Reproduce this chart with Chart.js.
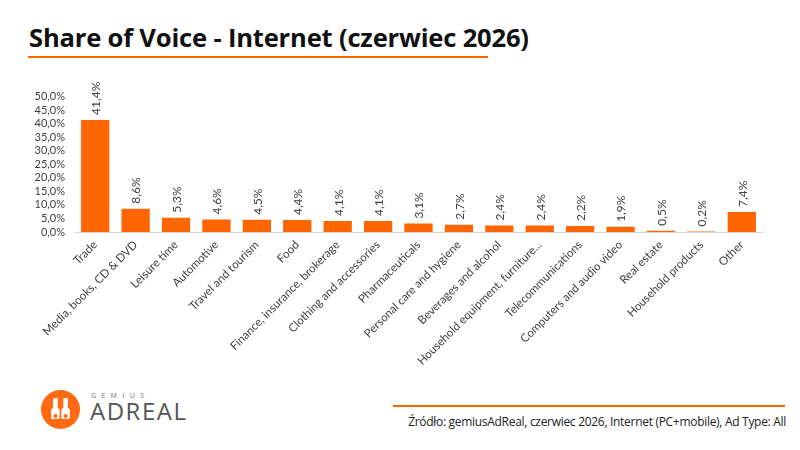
<!DOCTYPE html>
<html>
<head>
<meta charset="utf-8">
<script src="https://cdn.jsdelivr.net/npm/chart.js@4/dist/chart.umd.min.js"></script>
<style>
  html,body{margin:0;padding:0;background:#fff;}
  body{width:800px;height:450px;position:relative;overflow:hidden;font-family:"Open Sans",sans-serif;}
  #title{position:absolute;left:29px;top:20px;font-family:"Open Sans",sans-serif;font-weight:700;font-size:25.6px;color:#111;letter-spacing:-0.2px;white-space:nowrap;}
  #uline{position:absolute;left:28px;top:56px;width:460px;height:2px;background:#FF6600;}
  #wrap{position:absolute;left:20px;top:80px;width:770px;height:300px;}
  #fline{position:absolute;left:393px;top:405px;width:392px;height:2px;background:#FF6600;}
  #src{position:absolute;right:14px;top:413px;font-family:"Open Sans",sans-serif;font-size:12px;color:#222;white-space:nowrap;letter-spacing:-0.3px;}
  #logo{position:absolute;left:41px;top:390px;width:39px;height:39px;border-radius:50%;background:#FF6A13;}
  #gem{position:absolute;left:91px;top:392px;font-family:"Open Sans",sans-serif;font-size:7px;line-height:1;letter-spacing:5.3px;color:#999;font-weight:600;}
  #adr{position:absolute;left:90px;top:399px;font-family:"Open Sans",sans-serif;font-size:24px;line-height:1;letter-spacing:1.5px;color:#555;font-weight:400;}
</style>
</head>
<body>
<div id="title">Share of Voice - Internet (czerwiec 2026)</div>
<div id="uline"></div>
<div id="wrap"><canvas id="c"></canvas></div>
<div id="logo">
  <svg width="39" height="39" viewBox="0 0 42 42">
    <path d="M13 9 h5 v10 l2 2 v10 h-9 v-10 l2 -2z" fill="#fff"/>
    <path d="M24 9 h5 v10 l2 2 v10 h-9 v-10 l2 -2z" fill="#fff"/>
    <circle cx="15.5" cy="28" r="2.2" fill="#FF6A13"/>
    <circle cx="26.5" cy="28" r="2.2" fill="#FF6A13"/>
  </svg>
</div>
<div id="gem">GEMIUS</div>
<div id="adr">ADREAL</div>
<div id="fline"></div>
<div id="src">Źródło: gemiusAdReal, czerwiec 2026, Internet (PC+mobile), Ad Type: All</div>
<script>
const categories = ["Trade","Media, books, CD & DVD","Leisure time","Automotive","Travel and tourism","Food","Finance, insurance, brokerage","Clothing and accessories","Pharmaceuticals","Personal care and hygiene","Beverages and alcohol","Household equipment, furniture...","Telecommunications","Computers and audio video","Real estate","Household products","Other"];
const shareValues = [41.4,8.6,5.3,4.6,4.5,4.4,4.1,4.1,3.1,2.7,2.4,2.4,2.2,1.9,0.5,0.2,7.4];
const yTicks = [0,5,10,15,20,25,30,35,40,45,50];

const fmt = v => v.toFixed(1).replace('.', ',') + '%';

const barLabels = {
  id: 'barLabels',
  afterDatasetsDraw(chart) {
    const ctx = chart.ctx;
    const meta = chart.getDatasetMeta(0);
    ctx.save();
    ctx.font = '12px Lato, "Open Sans", sans-serif';
    ctx.fillStyle = '#404040';
    ctx.textAlign = 'left';
    ctx.textBaseline = 'middle';
    meta.data.forEach((el, i) => {
      ctx.save();
      ctx.translate(el.x + 1, el.y - 5);
      ctx.rotate(-Math.PI / 2);
      ctx.fillText(fmt(shareValues[i]), 0, 0);
      ctx.restore();
    });
    ctx.restore();
  }
};

new Chart(document.getElementById('c'), {
  type: 'bar',
  data: {
    labels: categories,
    datasets: [{
      data: shareValues,
      backgroundColor: '#FF6600',
      borderWidth: 0,
      categoryPercentage: 0.7,
      barPercentage: 1.0
    }]
  },
  options: {
    responsive: true,
    maintainAspectRatio: false,
    animation: false,
    layout: { padding: { top: 16, right: 28, left: 0, bottom: 0 } },
    plugins: { legend: { display: false }, tooltip: { enabled: false } },
    scales: {
      x: {
        grid: { display: false, drawTicks: false },
        border: { display: true, color: '#D9D9D9', width: 1 },
        ticks: {
          minRotation: 45, maxRotation: 45, autoSkip: false,
          color: '#404040', padding: 6,
          font: { family: 'Lato, "Open Sans", sans-serif', size: 11.5 }
        },
        afterFit(s) { s.height = 148; }
      },
      y: {
        min: 0, max: 50,
        grid: { display: false, drawTicks: false },
        border: { display: false },
        afterBuildTicks(s) { s.ticks = yTicks.map(v => ({ value: v })); },
        ticks: {
          autoSkip: false,
          color: '#404040', padding: 10,
          font: { family: 'Lato, "Open Sans", sans-serif', size: 11 },
          callback: v => fmt(v)
        },
        afterFit(s) { s.width = 55; }
      }
    }
  },
  plugins: [barLabels]
});
</script>
</body>
</html>
